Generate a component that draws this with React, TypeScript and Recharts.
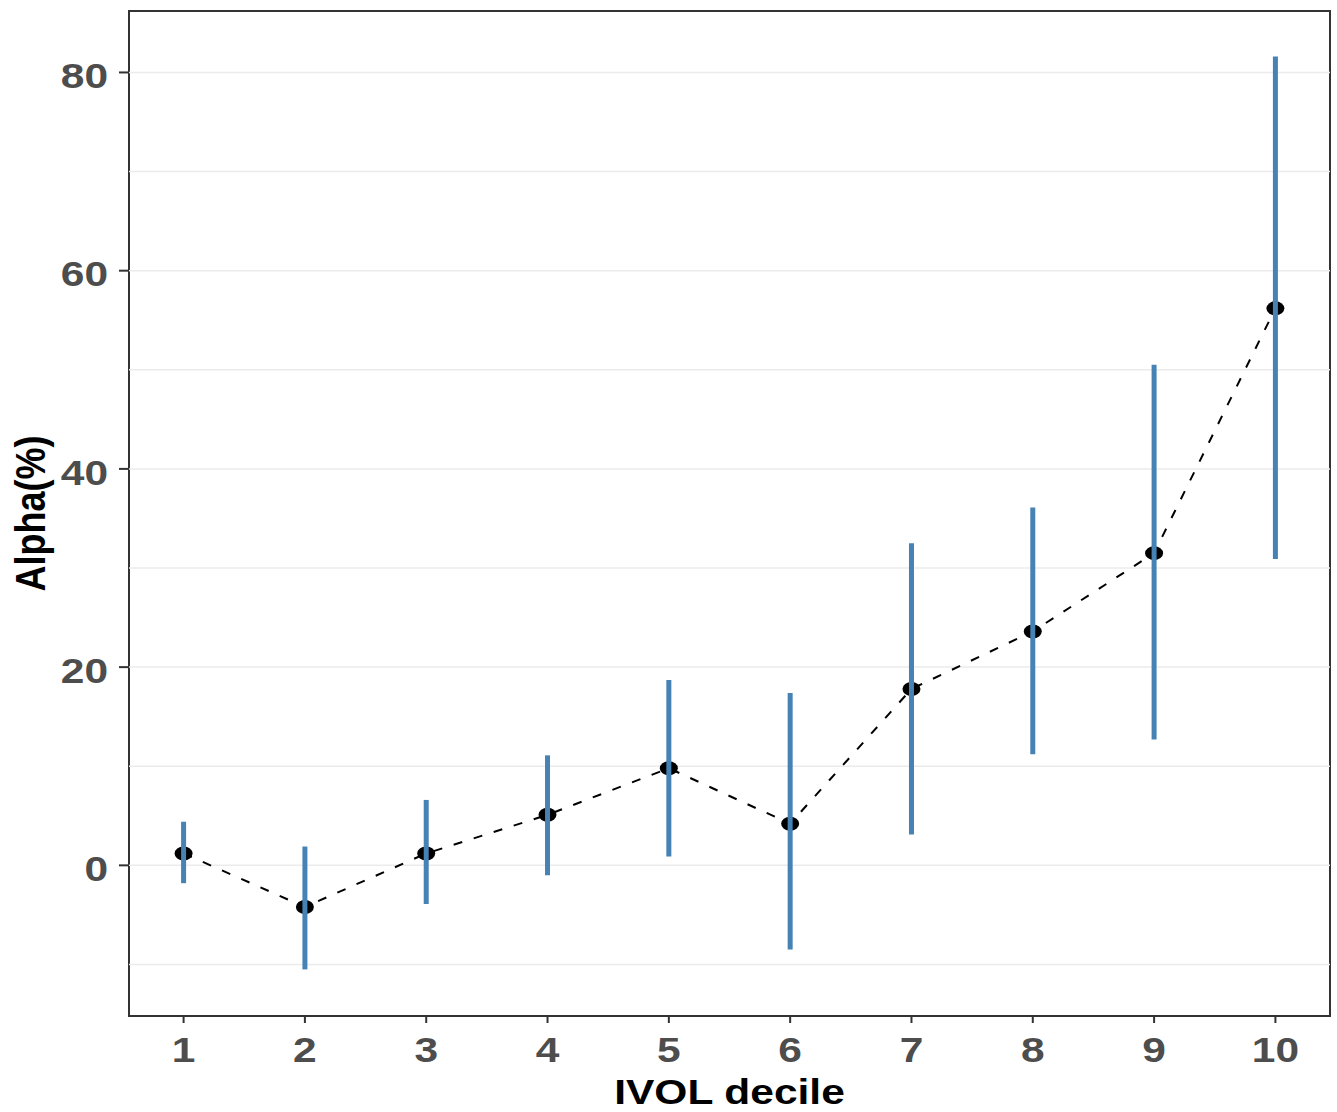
import {
  ComposedChart, Line, Scatter, ErrorBar, XAxis, YAxis, ReferenceLine, ReferenceArea, Label,
} from "recharts";

// === Data ===
const deciles = [1, 2, 3, 4, 5, 6, 7, 8, 9, 10];
const alpha = [1.2, -4.2, 1.2, 5.1, 9.8, 4.2, 17.8, 23.6, 31.5, 56.2];
const lower = [-1.8, -10.5, -3.9, -1.0, 0.9, -8.5, 3.1, 11.2, 12.7, 30.9];
const upper = [4.4, 1.9, 6.6, 11.1, 18.7, 17.4, 32.5, 36.1, 50.5, 81.6];

const yTicks = [0, 20, 40, 60, 80];
const minorGrid = [-10, 10, 30, 50, 70];

const X_DOMAIN: [number, number] = [0.55, 10.45];
const Y_DOMAIN: [number, number] = [-15.2, 86.2];

const data = deciles.map((d, i) => ({
  x: d,
  y: alpha[i],
  err: [alpha[i] - lower[i], upper[i] - alpha[i]],
}));

const W = 1337;
const H = 1112;
const MARGIN = { top: 11, right: 7, bottom: 0, left: 0 };
const FONT = "'Liberation Sans', Arial, sans-serif";
const STRETCH = 1.18; // the reference text is wider than it is tall

const XTick = (props: any) => (
  <g transform={`translate(${props.x},${props.y}) scale(${STRETCH},1)`}>
    <text textAnchor="middle" dy="0.71em" fontSize={36} fontWeight={700} fill="#4d4d4d" fontFamily={FONT}>
      {props.payload.value}
    </text>
  </g>
);

const YTick = (props: any) => (
  <g transform={`translate(${props.x},${props.y + 3}) scale(${STRETCH},1)`}>
    <text textAnchor="end" dy="0.355em" fontSize={36} fontWeight={700} fill="#4d4d4d" fontFamily={FONT}>
      {props.payload.value}
    </text>
  </g>
);

const Dot = (props: any) => (
  <ellipse cx={props.cx} cy={props.cy} rx={9} ry={7} fill="#000" />
);

export default function App() {
  return (
    <div style={{ position: "absolute", left: 0, top: 0, width: W, height: H, background: "#fff" }}>
      <div style={{ position: "absolute", left: 0, top: 0 }}>
        <ComposedChart width={W} height={H} data={data} margin={MARGIN}>
          {[...yTicks, ...minorGrid].map((v) => (
            <ReferenceLine key={v} y={v} stroke="#ebebeb" strokeWidth={1.5} />
          ))}
          <XAxis
            type="number"
            dataKey="x"
            domain={X_DOMAIN}
            allowDataOverflow
            ticks={deciles}
            interval={0}
            height={96}
            axisLine={false}
            tickSize={7}
            tickMargin={13}
            tickLine={{ stroke: "#333", strokeWidth: 2 }}
            tick={<XTick />}
          >
            <Label
              content={({ viewBox }: any) => (
                <g transform={`translate(${viewBox.x + viewBox.width / 2},${viewBox.y + viewBox.height - 8}) scale(${STRETCH},1)`}>
                  <text textAnchor="middle" fontSize={36} fontWeight={700} fill="#000" fontFamily={FONT}>
                    IVOL decile
                  </text>
                </g>
              )}
            />
          </XAxis>
          <YAxis
            type="number"
            domain={Y_DOMAIN}
            allowDataOverflow
            ticks={yTicks}
            interval={0}
            width={129}
            axisLine={false}
            tickSize={10}
            tickMargin={11}
            tickLine={{ stroke: "#333", strokeWidth: 2 }}
            tick={<YTick />}
          >
            <Label
              content={({ viewBox }: any) => (
                <g transform={`translate(30,${viewBox.y + viewBox.height / 2}) scale(${STRETCH},1) rotate(-90)`}>
                  <text textAnchor="middle" dy="0.355em" fontSize={36} fontWeight={700} fill="#000" fontFamily={FONT}>
                    Alpha(%)
                  </text>
                </g>
              )}
            />
          </YAxis>
          <Line
            type="linear"
            dataKey="y"
            stroke="#000"
            strokeWidth={2}
            strokeDasharray="9 12"
            dot={false}
            activeDot={false}
            isAnimationActive={false}
          />
          <Scatter dataKey="y" shape={Dot} isAnimationActive={false} />
          <ReferenceArea
            x1={X_DOMAIN[0]}
            x2={X_DOMAIN[1]}
            y1={Y_DOMAIN[0]}
            y2={Y_DOMAIN[1]}
            fill="none"
            fillOpacity={0}
            stroke="#333"
            strokeWidth={2}
          />
        </ComposedChart>
      </div>
      {/* error bars on a second, transparent layer so they sit above the points */}
      <div style={{ position: "absolute", left: 0, top: 0 }}>
        <ComposedChart
          width={W}
          height={H}
          data={data}
          margin={{ top: MARGIN.top, right: MARGIN.right, bottom: 96, left: 129 }}
        >
          <XAxis type="number" dataKey="x" domain={X_DOMAIN} allowDataOverflow hide />
          <YAxis type="number" domain={Y_DOMAIN} allowDataOverflow hide />
          <Scatter dataKey="y" shape={() => <g />} isAnimationActive={false}>
            <ErrorBar
              dataKey="err"
              direction="y"
              width={0}
              stroke="#4682b4"
              strokeWidth={5}
              isAnimationActive={false}
            />
          </Scatter>
        </ComposedChart>
      </div>
    </div>
  );
}
